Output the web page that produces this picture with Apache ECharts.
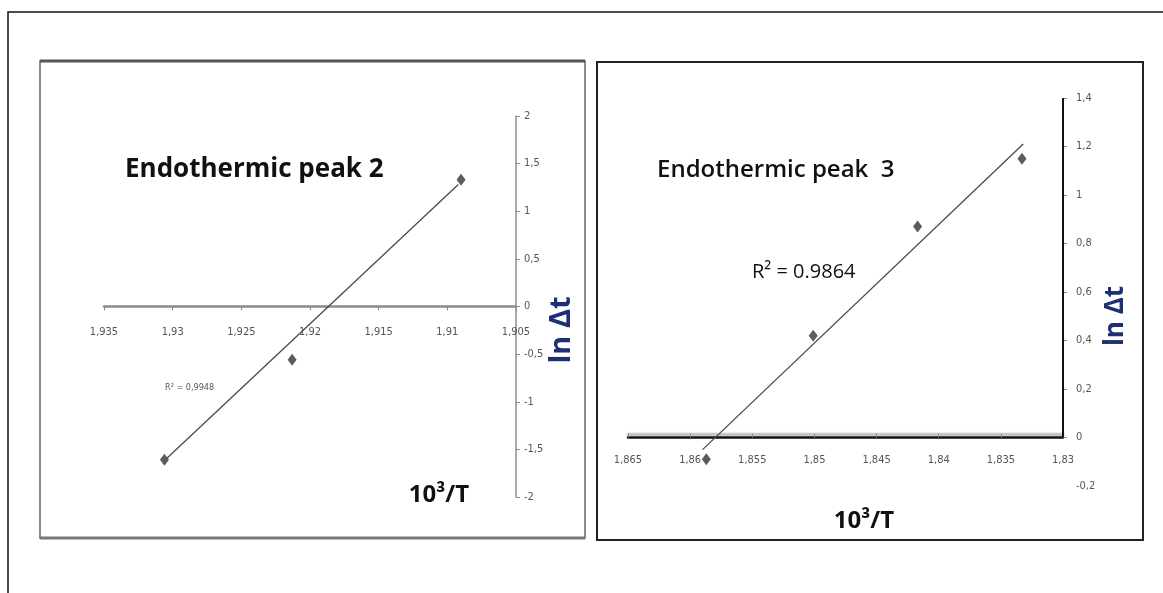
<!DOCTYPE html>
<html>
<head>
<meta charset="utf-8">
<script src="https://cdn.jsdelivr.net/npm/echarts@6/dist/echarts.min.js"></script>
<style>
  html, body { margin: 0; padding: 0; background: #fff; }
  #chart { width: 1163px; height: 593px; }
</style>
</head>
<body>
<div id="chart"></div>
<script>
// Endothermic peak 2: ln Δt against 10^3/T
const peak2X = [1.9306, 1.9213, 1.9090];
const peak2Y = [-1.61, -0.56, 1.33];
const peak2Trend = [[1.9304, -1.59], [1.9092, 1.28]];
const peak2R2 = 'R² = 0,9948';
const peak2XTicks = ['1,905', '1,91', '1,915', '1,92', '1,925', '1,93', '1,935'];
const peak2YTicks = ['-2', '-1,5', '-1', '-0,5', '0', '0,5', '1', '1,5', '2'];

// Endothermic peak 3
const peak3X = [1.8587, 1.8501, 1.8417, 1.8333];
const peak3Y = [-0.09, 0.42, 0.87, 1.15];
const peak3Trend = [[1.8590, -0.05], [1.8332, 1.21]];
const peak3R2 = 'R² = 0.9864';
const peak3XTicks = ['1,83', '1,835', '1,84', '1,845', '1,85', '1,855', '1,86', '1,865'];
const peak3YTicks = ['-0,2', '0', '0,2', '0,4', '0,6', '0,8', '1', '1,2', '1,4'];
const peak3YTickMarks = [0, 0.2, 0.4, 0.6, 0.8, 1, 1.2, 1.4];

const TICK_FONT = '"Liberation Sans Narrow", "DejaVu Sans Condensed", sans-serif';
const TEXT_FONT = '"Open Sans", "Noto Sans", sans-serif';

function tickLabel(list, min, step) {
  return function (v) {
    const i = Math.round((v - min) / step);
    return list[i] !== undefined ? list[i] : '';
  };
}

const pairs = (xs, ys) => xs.map((x, i) => [x, ys[i]]);

// grid boxes; the horizontal axes are lifted onto the zero line of each panel
const g1 = { left: 104, top: 116, width: 412, height: 381 };
const g2 = { left: 628, top: 98, width: 435, height: 388 };
const zeroOffset1 = -(g1.height * (0 - -2) / (2 - -2));
const zeroOffset2 = -(g2.height * (0 - -0.2) / (1.4 - -0.2));

const chart = echarts.init(document.getElementById('chart'), null, { renderer: 'canvas' });

const option = {
  animation: false,
  backgroundColor: '#ffffff',
  grid: [g1, g2],
  xAxis: [
    {
      gridIndex: 0, type: 'value', inverse: true, position: 'bottom', offset: zeroOffset1,
      min: 1.905, max: 1.935, interval: 0.005,
      splitLine: { show: false },
      axisLine: { onZero: false, lineStyle: { color: '#8c8c8c', width: 2.5 } },
      axisTick: { show: true, length: 4, lineStyle: { color: '#8c8c8c' } },
      axisLabel: { margin: 20, color: '#555', fontSize: 11, fontFamily: TICK_FONT,
        formatter: tickLabel(peak2XTicks, 1.905, 0.005) }
    },
    {
      gridIndex: 1, type: 'value', inverse: true, position: 'bottom', offset: zeroOffset2,
      min: 1.83, max: 1.865, interval: 0.005,
      splitLine: { show: false },
      axisLine: { onZero: false, lineStyle: { color: '#111', width: 2.5,
        shadowColor: 'rgba(120,120,120,0.6)', shadowBlur: 2, shadowOffsetY: -3 } },
      axisTick: { show: true, inside: true, length: 4, lineStyle: { color: '#888' } },
      axisLabel: { margin: 17, color: '#555', fontSize: 11, fontFamily: TICK_FONT,
        formatter: tickLabel(peak3XTicks, 1.83, 0.005) }
    }
  ],
  yAxis: [
    {
      gridIndex: 0, type: 'value', position: 'right',
      min: -2, max: 2, interval: 0.5,
      splitLine: { show: false },
      axisLine: { show: true, onZero: false, lineStyle: { color: '#8c8c8c', width: 1.5 } },
      axisTick: { show: true, length: 4, lineStyle: { color: '#8c8c8c' } },
      axisLabel: { margin: 8, color: '#555', fontSize: 11, fontFamily: TICK_FONT,
        formatter: tickLabel(peak2YTicks, -2, 0.5) }
    },
    {
      gridIndex: 1, type: 'value', position: 'right',
      min: -0.2, max: 1.4, interval: 0.2,
      splitLine: { show: false },
      axisLine: { show: false, onZero: false },
      axisTick: { show: true, length: 4, customValues: peak3YTickMarks, lineStyle: { color: '#888' } },
      axisLabel: { margin: 13, color: '#555', fontSize: 11, fontFamily: TICK_FONT,
        formatter: tickLabel(peak3YTicks, -0.2, 0.2) }
    }
  ],
  series: [
    {
      type: 'line', xAxisIndex: 0, yAxisIndex: 0,
      data: peak2Trend, showSymbol: false, symbol: 'none',
      lineStyle: { color: '#4a4a4a', width: 1.3 }, z: 2
    },
    {
      type: 'scatter', xAxisIndex: 0, yAxisIndex: 0,
      data: pairs(peak2X, peak2Y), symbol: 'diamond', symbolSize: [9, 12],
      itemStyle: { color: '#333' }, z: 3
    },
    {
      type: 'line', xAxisIndex: 1, yAxisIndex: 1,
      data: peak3Trend, showSymbol: false, symbol: 'none',
      lineStyle: { color: '#4a4a4a', width: 1.3 }, z: 2
    },
    {
      type: 'scatter', xAxisIndex: 1, yAxisIndex: 1,
      data: pairs(peak3X, peak3Y), symbol: 'diamond', symbolSize: [9, 12],
      itemStyle: { color: '#333' }, z: 3,
      // vertical axis line of the second panel, running from 0 up to the top value
      markLine: {
        silent: true, symbol: 'none', label: { show: false },
        lineStyle: { color: '#111', width: 2, type: 'solid' },
        data: [[{ coord: [1.83, 0] }, { coord: [1.83, 1.4] }]]
      }
    }
  ],
  graphic: [
    // outer frame
    { type: 'polyline', silent: true, shape: { points: [[8, 593], [8, 12], [1163, 12]] },
      style: { stroke: '#111', lineWidth: 1.5, fill: null } },
    // left panel frame
    { type: 'rect', silent: true, shape: { x: 40, y: 61, width: 545, height: 477 },
      style: { stroke: '#666', lineWidth: 1.5, fill: null } },
    { type: 'line', silent: true, shape: { x1: 40, y1: 61, x2: 585, y2: 61 },
      style: { stroke: '#555', lineWidth: 3 } },
    { type: 'line', silent: true, shape: { x1: 40, y1: 538, x2: 585, y2: 538 },
      style: { stroke: '#777', lineWidth: 3 } },
    // right panel frame
    { type: 'rect', silent: true, shape: { x: 597, y: 62, width: 546, height: 478 },
      style: { stroke: '#222', lineWidth: 2, fill: null } },

    // panel texts
    { type: 'text', silent: true, style: { text: 'Endothermic peak 2', x: 125, y: 170,
      textAlign: 'left', textVerticalAlign: 'middle',
      font: 'bold 26px ' + TEXT_FONT, fill: '#111' } },
    { type: 'text', silent: true, style: { text: peak2R2, x: 165, y: 388,
      textAlign: 'left', textVerticalAlign: 'middle',
      font: '9px ' + TICK_FONT, fill: '#555' } },
    { type: 'text', silent: true, style: { text: '10³/T', x: 439, y: 495,
      textAlign: 'center', textVerticalAlign: 'middle',
      font: 'bold 24px ' + TEXT_FONT, fill: '#111' } },
    { type: 'text', silent: true, rotation: Math.PI / 2, x: 562, y: 330,
      style: { text: 'ln Δt', x: 0, y: 0, textAlign: 'center', textVerticalAlign: 'middle',
      font: 'bold 29px ' + TEXT_FONT, fill: '#1f2f73' } },

    { type: 'text', silent: true, style: { text: 'Endothermic peak  3', x: 657, y: 170,
      textAlign: 'left', textVerticalAlign: 'middle',
      font: '600 24px ' + TEXT_FONT, fill: '#111' } },
    { type: 'text', silent: true, style: { text: peak3R2, x: 752, y: 272,
      textAlign: 'left', textVerticalAlign: 'middle',
      font: '20px ' + TEXT_FONT, fill: '#111' } },
    { type: 'text', silent: true, style: { text: '10³/T', x: 864, y: 521,
      textAlign: 'center', textVerticalAlign: 'middle',
      font: 'bold 24px ' + TEXT_FONT, fill: '#111' } },
    { type: 'text', silent: true, rotation: Math.PI / 2, x: 1116, y: 316,
      style: { text: 'ln Δt', x: 0, y: 0, textAlign: 'center', textVerticalAlign: 'middle',
      font: 'bold 26px ' + TEXT_FONT, fill: '#1f2f73' } }
  ]
};

chart.setOption(option);
</script>
</body>
</html>
